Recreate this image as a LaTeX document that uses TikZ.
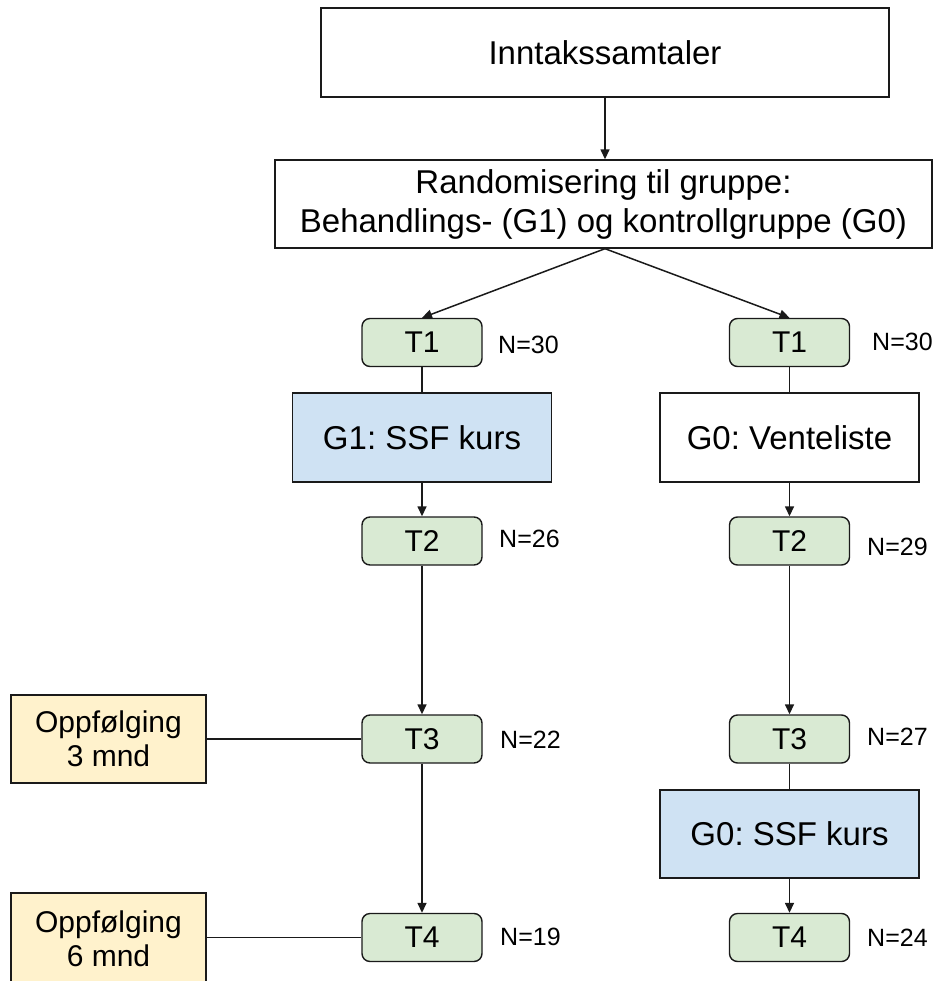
\documentclass[tikz,border=0pt]{standalone}
\usepackage{fontspec}
\setmainfont{Liberation Sans}
\usetikzlibrary{arrows.meta}
\definecolor{tgreen}{HTML}{D9EAD3}
\definecolor{tblue}{HTML}{CFE2F3}
\definecolor{tyellow}{HTML}{FFF2CC}
\definecolor{tline}{HTML}{1A1A1A}
\frenchspacing
\begin{document}
\begin{tikzpicture}[x=1pt,y=-1pt,
  box/.style={draw=tline,line width=1.4pt,inner sep=0pt,align=center,font=\fontsize{33}{39}\selectfont},
  bigbox/.style={box,minimum width=259pt,minimum height=89pt},
  tbox/.style={box,fill=tgreen,rounded corners=8pt,minimum width=120pt,minimum height=48pt,font=\fontsize{30}{34}\selectfont},
  obox/.style={box,fill=tyellow,minimum width=195pt,font=\fontsize{30}{34}\selectfont},
  nlab/.style={anchor=west,inner sep=0pt,font=\fontsize{25}{28}\selectfont},
  conn/.style={draw=tline,line width=1.5pt},
  arr/.style={conn,-{Triangle[length=10pt,width=9pt]}}]
\useasboundingbox (0,0) rectangle (934,981);
\clip (0,0) rectangle (934,981);

\node[box,minimum width=568pt,minimum height=89pt] (top) at (605,52.5) {Inntakssamtaler};
\node[box,minimum width=657pt,minimum height=88pt] (rand) at (603.5,204) {Randomisering til gruppe:\\Behandlings- (G1) og kontrollgruppe (G0)};

\node[tbox] (t1l) at (422,342.5) {T1};
\node[tbox] (t1r) at (789.5,342.5) {T1};
\node[bigbox,fill=tblue] (g1) at (422,437.5) {G1: SSF kurs};
\node[bigbox,fill=white] (vent) at (789.5,437.5) {G0: Venteliste};
\node[tbox] (t2l) at (422,541) {T2};
\node[tbox] (t2r) at (789.5,541) {T2};
\node[tbox] (t3l) at (422,739) {T3};
\node[tbox] (t3r) at (789.5,739) {T3};
\node[bigbox,fill=tblue,minimum height=88pt] (g0s) at (789.5,834) {G0: SSF kurs};
\node[tbox] (t4l) at (422,937.5) {T4};
\node[tbox] (t4r) at (789.5,937.5) {T4};

\node[obox,minimum height=88pt] (opp3) at (108.5,739) {Oppfølging\\3 mnd};
\node[obox,minimum height=92pt] (opp6) at (108.5,939) {Oppfølging\\6 mnd};

\node[nlab] (n1l) at (498,345) {N=30};
\node[nlab] (n1r) at (872,342) {N=30};
\node[nlab] (n2l) at (499,539) {N=26};
\node[nlab] (n2r) at (867,547) {N=29};
\node[nlab] (n3l) at (500,740) {N=22};
\node[nlab] (n3r) at (867,737) {N=27};
\node[nlab] (n4l) at (500,937) {N=19};
\node[nlab] (n4r) at (867,938) {N=24};

\coordinate (rs) at (top.south |- rand.south);
\draw[arr] (top.south) -- (top.south |- rand.north);
\draw[arr] (rs) -- (t1l.north);
\draw[arr] (rs) -- (t1r.north);

\draw[conn] (t1l.south) -- (g1.north);
\draw[arr] (g1.south) -- (t2l.north);
\draw[arr] (t2l.south) -- (t3l.north);
\draw[arr] (t3l.south) -- (t4l.north);

\draw[conn] (t1r.south) -- (vent.north);
\draw[arr] (vent.south) -- (t2r.north);
\draw[arr] (t2r.south) -- (t3r.north);
\draw[conn] (t3r.south) -- (g0s.north);
\draw[arr] (g0s.south) -- (t4r.north);

\draw[conn] (opp3.east) -- (t3l.west);
\draw[conn] (opp6.east |- t4l.west) -- (t4l.west);
\end{tikzpicture}
\end{document}
